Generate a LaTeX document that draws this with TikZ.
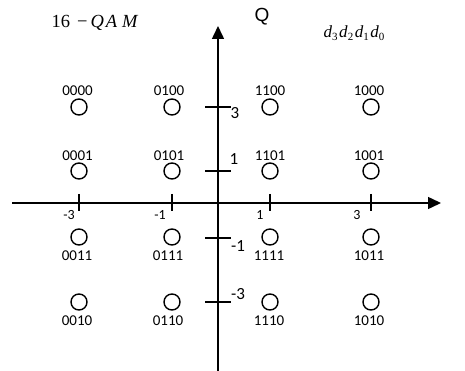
\documentclass[tikz,border=0pt]{standalone}
\usepackage{fontspec}
\setmainfont{Liberation Serif}
\newfontfamily\calib{Carlito}
\newfontfamily\arialf{Liberation Sans}
\usetikzlibrary{arrows.meta}
\begin{document}
\begin{tikzpicture}[x=1pt,y=-1pt,
  axis/.style={line width=1.5pt,-{Triangle[length=13pt,width=12pt]}},
  tickm/.style={line width=1.5pt},
  pt/.style={circle,draw,line width=1.4pt,minimum size=16pt,inner sep=0pt},
  code/.style={font=\calib\fontsize{15}{15}\selectfont,inner sep=0pt},
  xlab/.style={font=\calib\fontsize{14}{14}\selectfont,inner sep=0pt},
  ylab/.style={font=\calib\fontsize{17}{17}\selectfont,inner sep=0pt}]
\useasboundingbox (0,0) rectangle (465,371);
% axes
\coordinate (xs) at (12,203);
\coordinate (xe) at (441,203);
\coordinate (ys) at (218,371);
\coordinate (ye) at (218,26);
\draw[axis] (xs) -- (xe);
\draw[axis] (ys) -- (ye);
% x ticks
\foreach \x in {79,172,270,371} {
  \coordinate (tx\x a) at (\x,194);
  \coordinate (tx\x b) at (\x,211);
  \draw[tickm] (tx\x a) -- (tx\x b);
}
% y ticks
\foreach \y in {107,171,238,302} {
  \coordinate (ty\y a) at (205,\y);
  \coordinate (ty\y b) at (231,\y);
  \draw[tickm] (ty\y a) -- (ty\y b);
}
% tick labels
\node[xlab] (lxm3) at (69,215) {-3};
\node[xlab] (lxm1) at (160,215) {-1};
\node[xlab] (lx1) at (260,215) {1};
\node[xlab] (lx3) at (357,215) {3};
\node[ylab] (ly3) at (235,113) {3};
\node[ylab] (ly1) at (234,159.5) {1};
\node[ylab] (lym1) at (238,246) {-1};
\node[ylab] (lym3) at (238,294) {-3};
% titles
\node[inner sep=0pt,font=\arialf\fontsize{19}{19}\selectfont] (Q) at (262,16.5) {Q};
\node[inner sep=0pt,font=\fontsize{18.5}{18.5}\selectfont] (title) at (95,23)
  {16\hspace{7pt}−\hspace{3pt}\textit{Q\hspace{2pt}A\hspace{5pt}M}};
\node[inner sep=0pt,font=\fontsize{17}{17}\selectfont] (bits) at (354,33)
  {\textit{d}\raisebox{-3.5pt}{\fontsize{11}{11}\selectfont 3}\hspace{1.5pt}%
   \textit{d}\raisebox{-3.5pt}{\fontsize{11}{11}\selectfont 2}\hspace{1.5pt}%
   \textit{d}\raisebox{-3.5pt}{\fontsize{11}{11}\selectfont 1}\hspace{1.5pt}%
   \textit{d}\raisebox{-3.5pt}{\fontsize{11}{11}\selectfont 0}};
% constellation points
\node[pt] (p0000) at (79,107) {};
\node[pt] (p0100) at (172,107) {};
\node[pt] (p1100) at (270,107) {};
\node[pt] (p1000) at (371,107) {};
\node[pt] (p0001) at (79,171) {};
\node[pt] (p0101) at (172,171) {};
\node[pt] (p1101) at (270,171) {};
\node[pt] (p1001) at (371,171) {};
\node[pt] (p0011) at (79,237) {};
\node[pt] (p0111) at (172,237) {};
\node[pt] (p1111) at (270,237) {};
\node[pt] (p1011) at (371,237) {};
\node[pt] (p0010) at (79,302) {};
\node[pt] (p0110) at (172,302) {};
\node[pt] (p1110) at (270,302) {};
\node[pt] (p1010) at (371,302) {};
% code labels
\node[code] (c0000) at (77.5,91) {0000};
\node[code] (c0100) at (169,91) {0100};
\node[code] (c1100) at (270,91) {1100};
\node[code] (c1000) at (369,91) {1000};
\node[code] (c0001) at (77.5,156) {0001};
\node[code] (c0101) at (169,156) {0101};
\node[code] (c1101) at (270,156) {1101};
\node[code] (c1001) at (369,156) {1001};
\node[code] (c0011) at (77,256) {0011};
\node[code] (c0111) at (168,256) {0111};
\node[code] (c1111) at (269,256) {1111};
\node[code] (c1011) at (369,256) {1011};
\node[code] (c0010) at (77,321) {0010};
\node[code] (c0110) at (168,321) {0110};
\node[code] (c1110) at (269,321) {1110};
\node[code] (c1010) at (369,321) {1010};
\end{tikzpicture}
\end{document}
